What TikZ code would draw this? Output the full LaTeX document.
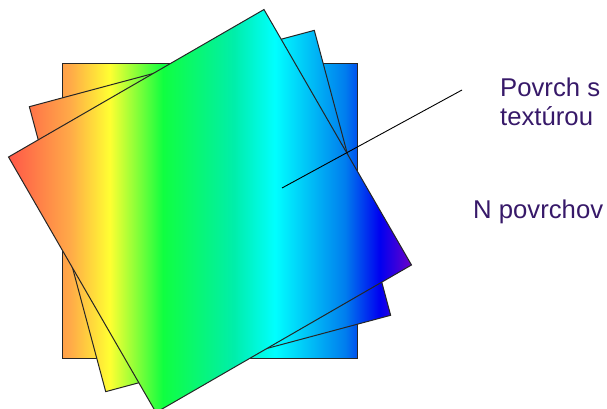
\documentclass[tikz,border=0pt]{standalone}
\usepackage{fontspec}
\setmainfont{Liberation Sans}
\usetikzlibrary{positioning}

\definecolor{rbRed}{RGB}{255,88,72}
\definecolor{rbOrange}{RGB}{255,170,72}
\definecolor{rbYellow}{RGB}{255,255,50}
\definecolor{rbGreen}{RGB}{16,255,64}
\definecolor{rbSea}{RGB}{0,238,170}
\definecolor{rbCyan}{RGB}{0,255,255}
\definecolor{rbSky}{RGB}{0,125,238}
\definecolor{rbBlue}{RGB}{0,0,240}
\definecolor{rbViolet}{RGB}{110,0,200}
\definecolor{labelcol}{RGB}{55,25,105}

% rainbow across the whole picture, 25bp..75bp = x 9..412
\pgfdeclarehorizontalshading{rainbow}{100bp}{%
  color(0bp)=(rbRed); color(25bp)=(rbRed); color(32.6bp)=(rbOrange);
  color(37.5bp)=(rbYellow); color(44.1bp)=(rbGreen); color(52.9bp)=(rbSea);
  color(58.0bp)=(rbCyan); color(66.7bp)=(rbSky); color(71.0bp)=(rbBlue);
  color(75bp)=(rbViolet); color(100bp)=(rbViolet)}

\begin{document}
\begin{tikzpicture}[
	x=1pt, y=-1pt,
	sheet/.style={ draw=black!85, line width=1pt },
	pointer/.style={ draw=black, line width=0.9pt },
	labeltext/.style={ text=labelcol, inner sep=0pt, anchor=base west, font=\fontsize{25.7}{28}\selectfont }
]
\useasboundingbox (0,0) rectangle (607,409);

\coordinate (mid) at (210,211);

\foreach \a in {0,15,30} {
	\begin{scope}
		\clip[rotate around={\a:(mid)}] (62.5,63.5) rectangle (357.5,358.5);
		\shade[shading=rainbow] (9,0) rectangle (412,409);
	\end{scope}
	\draw[sheet, rotate around={\a:(mid)}] (62.5,63.5) rectangle (357.5,358.5);
}

\node at (500,97) (surface) [labeltext] {Povrch s};
\node at (500,125) (texture) [labeltext] {textúrou};
\node at (473,218) (count) [labeltext] {N povrchov};

\coordinate (pin) at (282,188);
\coordinate (tip) at (462,90);
\draw[pointer] (pin) -- (tip);

\end{tikzpicture}
\end{document}
